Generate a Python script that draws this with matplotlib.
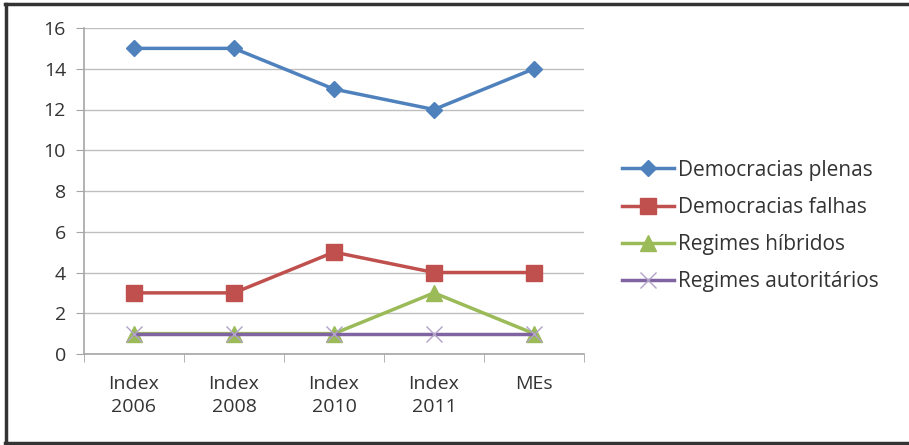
import matplotlib.pyplot as plt
from matplotlib.lines import Line2D
import numpy as np

categories = ["Index\n2006", "Index\n2008", "Index\n2010", "Index\n2011", "MEs"]
plenas = [15, 15, 13, 12, 14]
falhas = [3, 3, 5, 4, 4]
hibridos = [1, 1, 1, 3, 1]
autoritarios = [1, 1, 1, 1, 1]

plt.rcParams['font.family'] = ['Open Sans', 'DejaVu Sans']

fig = plt.figure(figsize=(9.09, 4.45), dpi=100)
ax = fig.add_axes([84 / 909, 1 - 354 / 445, 500 / 909, 326 / 445])

x = np.arange(len(categories))
ax.plot(x, plenas, color="#4F81BD", lw=2.5, marker="D", ms=8, label="Democracias plenas")
ax.plot(x, falhas, color="#C0504D", lw=2.5, marker="s", ms=11, label="Democracias falhas")
ax.plot(x, hibridos, color="#9BBB59", lw=2.5, marker="^", ms=11, label="Regimes híbridos")
ax.plot(x, autoritarios, color="#8064A2", lw=2.5, marker="x", ms=11,
        mec="#B3A2C7", mew=1.0, label="Regimes autoritários")

ax.set_xlim(-0.5, 4.5)
ax.set_ylim(0, 16)
ax.set_yticks(range(0, 17, 2))
ax.set_xticks(x)
ax.set_xticklabels(categories, linespacing=1.4)
ax.set_xticks(np.arange(-0.5, 5, 1), minor=True)
ax.tick_params(axis="x", which="major", length=0, pad=15, labelsize=14, labelcolor="#333333")
ax.tick_params(axis="x", which="minor", length=6, color="#A6A6A6")
ax.tick_params(axis="y", length=6, color="#A6A6A6", labelsize=14, labelcolor="#333333", pad=7)

ax.yaxis.grid(True, color="#BFBFBF", lw=1)
ax.set_axisbelow(True)
for s in ["top", "right"]:
    ax.spines[s].set_visible(False)
for s in ["left", "bottom"]:
    ax.spines[s].set_color("#A6A6A6")
    ax.spines[s].set_linewidth(1.2)

ax.legend(loc="center left", bbox_to_anchor=(603 / 909, 1 - 226 / 445), bbox_transform=fig.transFigure,
          frameon=False, fontsize=15, handlelength=2.5, labelspacing=0.78, handletextpad=0.2,
          labelcolor="#333333")

# frame around the picture
fig.add_artist(Line2D([5.5 / 909, 5.5 / 909], [2 / 445, 1 - 4 / 445], transform=fig.transFigure,
                      color="#333333", lw=2.5))
fig.add_artist(Line2D([5 / 909, 1], [1 - 4 / 445, 1 - 4 / 445], transform=fig.transFigure,
                      color="#333333", lw=2.5))
fig.add_artist(Line2D([5 / 909, 1], [2 / 445, 2 / 445], transform=fig.transFigure,
                      color="#333333", lw=2.5))

fig.savefig("out.png", dpi=100)
